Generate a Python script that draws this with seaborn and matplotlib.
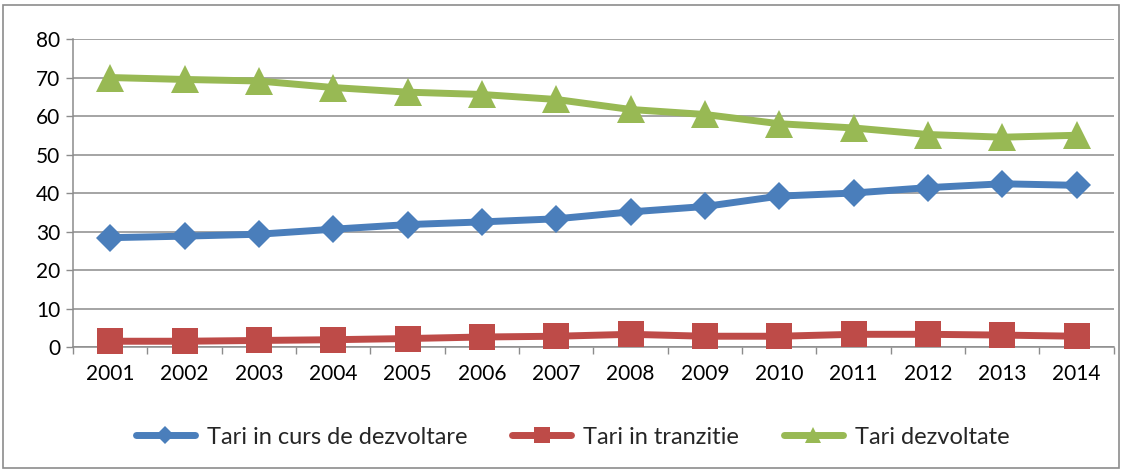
import matplotlib
matplotlib.use("Agg")
import matplotlib.pyplot as plt
import seaborn as sns
import pandas as pd
from matplotlib.patches import Rectangle

years = [2001, 2002, 2003, 2004, 2005, 2006, 2007, 2008, 2009, 2010, 2011, 2012, 2013, 2014]
curs_dezvoltare = [28.4, 28.8, 29.3, 30.6, 31.8, 32.5, 33.3, 35.1, 36.5, 39.2, 40.0, 41.4, 42.4, 42.0]
tranzitie = [1.5, 1.5, 1.7, 1.9, 2.2, 2.6, 2.8, 3.3, 2.8, 2.8, 3.3, 3.3, 3.1, 2.8]
dezvoltate = [70.0, 69.5, 69.1, 67.4, 66.2, 65.6, 64.3, 61.7, 60.4, 58.0, 56.9, 55.2, 54.5, 55.0]
series_names = ["Tari in curs de dezvoltare", "Tari in tranzitie", "Tari dezvoltate"]
y_ticks = [0, 10, 20, 30, 40, 50, 60, 70, 80]

df = pd.DataFrame({
    "An": years * 3,
    "Valoare": curs_dezvoltare + tranzitie + dezvoltate,
    "Serie": [series_names[0]] * len(years) + [series_names[1]] * len(years) + [series_names[2]] * len(years),
})

sns.set_theme(style="white")
plt.rcParams["font.family"] = ["Lato", "DejaVu Sans"]

colors = {series_names[0]: "#4A7EBB", series_names[1]: "#BE4B48", series_names[2]: "#98B954"}
markers = {series_names[0]: "D", series_names[1]: "s", series_names[2]: "^"}
msizes = {series_names[0]: 14.5, series_names[1]: 19, series_names[2]: 19.5}

fig = plt.figure(figsize=(11.27, 4.72), dpi=100)
ax = fig.add_axes([0.0648, 0.2648, 0.9235, 0.6525])

for name in series_names:
    sub = df[df["Serie"] == name]
    sns.lineplot(data=sub, x="An", y="Valoare", ax=ax, color=colors[name], linewidth=5,
                 marker=markers[name], markersize=msizes[name], markeredgewidth=0,
                 label=name, legend=False, clip_on=False, zorder=3)

ax.set_xlim(years[0] - 0.5, years[-1] + 0.5)
ax.set_ylim(y_ticks[0], y_ticks[-1])
ax.set_yticks(y_ticks)
ax.set_xticks(years)
ax.set_xticklabels([str(y) for y in years])
ax.set_xticks([y - 0.5 for y in years] + [years[-1] + 0.5], minor=True)
ax.set_xlabel("")
ax.set_ylabel("")

ax.yaxis.grid(True, color="#8C8C8C", linewidth=1.1)
ax.xaxis.grid(False)
ax.set_axisbelow(True)
for side in ["top", "right"]:
    ax.spines[side].set_visible(False)
for side in ["left", "bottom"]:
    ax.spines[side].set_color("#8C8C8C")
    ax.spines[side].set_linewidth(1.1)

ax.tick_params(axis="y", which="major", direction="out", length=5, width=1, color="#8C8C8C",
               left=True, labelsize=15, labelcolor="#000000", pad=4)
ax.tick_params(axis="x", which="major", length=0, labelsize=15, labelcolor="#000000", pad=12)
ax.tick_params(axis="x", which="minor", direction="out", length=5, width=1, color="#8C8C8C", bottom=True)

handles, labels = ax.get_legend_handles_labels()
fig.legend(handles, labels, loc="center", bbox_to_anchor=(0.508, 0.074), ncol=3, frameon=False,
           fontsize=17, handlelength=2.5, columnspacing=1.9, markerscale=0.6, handletextpad=0.5)

fig.patches.append(Rectangle((0.003, 0.008), 0.99, 0.982, transform=fig.transFigure,
                             fill=False, edgecolor="#8C8C8C", linewidth=1.2))

fig.savefig("out.png", dpi=100, facecolor="white")
